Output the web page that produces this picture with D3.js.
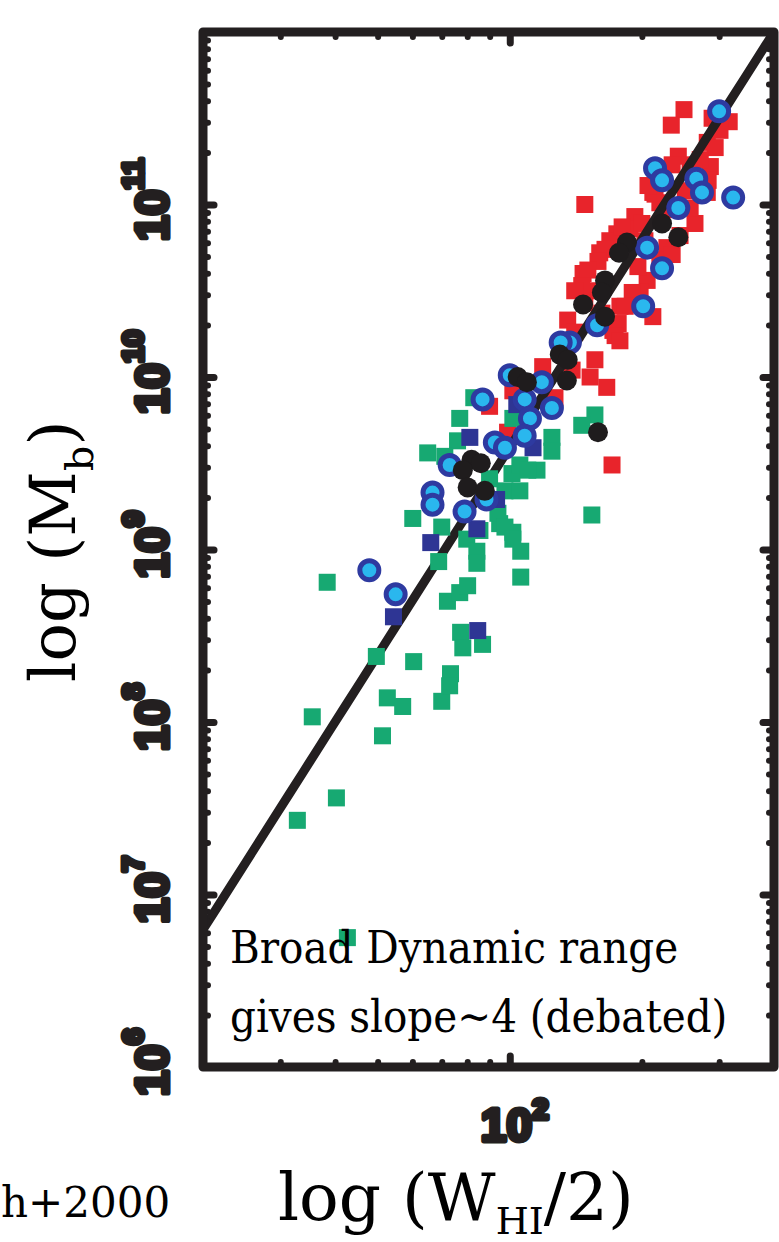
<!DOCTYPE html>
<html>
<head>
<meta charset="utf-8">
<script src="https://cdn.jsdelivr.net/npm/d3@7"></script>
<style>
  html, body { margin: 0; padding: 0; background: #ffffff; }
  svg { display: block; }
</style>
</head>
<body>
<svg id="chart" width="779" height="1242"></svg>
<script>
// Baryonic Tully–Fisher relation: log rotation width vs. baryonic mass.
// Points are stored as [log10(W_HI/2 in km/s), log10(M_b in solar masses)].

const redSquares = [
  [2.397,11.55],[2.368,11.46],[2.461,11.50],[2.500,11.48],[2.450,11.36],[2.468,11.33],
  [2.384,11.28],[2.370,11.23],[2.457,11.22],[2.452,11.14],[2.326,11.07],[2.342,11.01],
  [2.171,11.00],[2.450,11.07],[2.422,10.89],[2.411,10.98],[2.285,10.93],[2.274,10.86],
  [2.244,10.83],[2.228,10.79],[2.205,10.72],[2.358,10.75],[2.342,10.68],[2.167,10.60],
  [2.183,10.50],[2.313,10.56],[2.297,10.49],[2.326,10.35],[2.171,10.43],[2.132,10.33],
  [2.148,10.26],[2.235,10.27],[2.251,10.41],[2.194,10.10],[2.183,10.00],[2.221,9.94],
  [2.233,9.49],[2.075,10.06],[2.103,9.88],[2.007,9.92],[1.954,9.83],[1.995,9.68],
  [2.331,11.06],[2.354,10.97],[2.301,10.89],[2.256,10.87],[2.217,10.74],[2.201,10.67],
  [2.178,10.62],[2.164,10.53],[2.292,10.64],[2.279,10.49],[2.263,10.41],[2.247,10.31],
  [2.240,10.24],[2.370,10.71],[2.411,11.23],[2.434,11.26],[2.479,11.43],[2.114,10.19],
  [2.251,10.21],[2.210,10.37],[2.400,11.08],[2.388,10.82],[2.308,10.79],[2.315,11.11],
  [2.148,10.50],[2.142,10.04]
];

const greenSquares = [
  [1.918,9.88],[1.886,9.76],[1.881,9.63],[1.813,9.56],[1.779,9.18],[1.845,9.13],
  [1.838,8.93],[1.584,8.81],[1.696,8.38],[1.781,8.35],[1.721,8.14],[1.756,8.09],
  [1.710,7.92],[1.550,8.03],[1.845,8.12],[1.865,8.28],[1.863,8.21],[1.858,8.70],
  [1.886,8.75],[1.904,8.79],[1.888,8.52],[1.893,8.43],[1.938,8.45],[1.902,9.06],
  [1.925,8.99],[1.925,8.92],[1.977,9.15],[2.007,9.10],[2.025,8.99],[2.025,8.84],
  [2.194,9.78],[2.164,9.72],[2.187,9.20],[2.096,9.65],[2.096,9.57],[2.062,9.46],
  [2.005,9.44],[2.023,9.49],[2.007,9.76],[1.973,9.21],[1.989,9.13],[2.007,9.06],
  [1.932,9.11],[1.605,7.56],[1.516,7.43],[1.630,6.75],[2.041,9.46],[1.989,9.34],
  [2.023,9.34],[1.852,9.54],[1.954,9.41]
];

const navySquares = [
  [1.820,9.04],[1.735,8.61],[1.909,9.65],[2.016,9.84],[2.053,9.59],[1.970,9.29],
  [1.925,9.12],[1.927,8.53]
];

const ringCircles = [
  [2.477,11.54],[2.331,11.21],[2.347,11.14],[2.425,11.15],[2.438,11.07],[2.509,11.04],
  [2.384,10.98],[2.313,10.75],[2.347,10.63],[2.304,10.41],[2.199,10.30],[2.137,10.20],
  [2.116,10.20],[2.096,9.82],[2.073,9.97],[2.034,9.87],[2.046,9.76],[2.034,9.66],
  [2.000,10.01],[1.938,9.87],[1.966,9.62],[1.989,9.59],[1.863,9.49],[1.824,9.33],
  [1.824,9.26],[1.897,9.22],[1.947,9.29],[1.680,8.88],[1.740,8.74]
];

const blackCircles = [
  [2.267,10.78],[2.249,10.72],[2.384,10.81],[2.347,10.89],[2.217,10.56],[2.210,10.49],
  [2.167,10.42],[2.217,10.35],[2.018,10.00],[2.039,9.97],[2.114,10.13],[2.132,10.10],
  [2.130,9.98],[2.201,9.68],[1.913,9.52],[1.934,9.50],[1.893,9.46],[1.904,9.36],
  [1.943,9.34]
];

// Fitted relation: log M = slope * log W + intercept
const fitSlope = 4;
const fitIntercept = 1.592;

const xDomain = [20, 400];
const yDomain = [1e6, 1e12];
const xTickLabels = [{ value: 100, base: "10", exp: "2" }];
const yTickLabels = [
  { value: 1e6,  base: "10", exp: "6" },
  { value: 1e7,  base: "10", exp: "7" },
  { value: 1e8,  base: "10", exp: "8" },
  { value: 1e9,  base: "10", exp: "9" },
  { value: 1e10, base: "10", exp: "10" },
  { value: 1e11, base: "10", exp: "11" }
];
const noteLines = ["Broad Dynamic range", "gives slope~4 (debated)"];
const creditText = "h+2000";

const frame = { left: 203, right: 774, top: 32, bottom: 1067 };
const ink = "#231f20";
const colors = {
  red: "#e8242b",
  green: "#17a972",
  navy: "#2e3594",
  ringEdge: "#2e3aa0",
  ringFill: "#2ab7ee",
  black: "#1f1c1d"
};

const svg = d3.select("#chart");
svg.append("rect").attr("width", 779).attr("height", 1242).attr("fill", "#fff");

const x = d3.scaleLog().domain(xDomain).range([frame.left, frame.right]);
const y = d3.scaleLog().domain(yDomain).range([frame.bottom, frame.top]);
const px = d => x(Math.pow(10, d[0]));
const py = d => y(Math.pow(10, d[1]));

svg.append("clipPath").attr("id", "plotClip")
  .append("rect")
  .attr("x", frame.left).attr("y", frame.top)
  .attr("width", frame.right - frame.left)
  .attr("height", frame.bottom - frame.top);

const plot = svg.append("g").attr("clip-path", "url(#plotClip)");

const sq = 17;
function drawSquares(data, fill) {
  plot.append("g").selectAll("rect").data(data).join("rect")
    .attr("x", d => px(d) - sq / 2)
    .attr("y", d => py(d) - sq / 2)
    .attr("width", sq).attr("height", sq)
    .attr("fill", fill);
}

drawSquares(redSquares, colors.red);

// Fit line across the full width range
const fitW = d3.range(0, 41).map(i => xDomain[0] * Math.pow(xDomain[1] / xDomain[0], i / 40));
plot.append("path")
  .datum(fitW)
  .attr("fill", "none")
  .attr("stroke", ink)
  .attr("stroke-width", 9)
  .attr("d", d3.line()
    .x(w => x(w))
    .y(w => y(Math.pow(10, fitSlope * Math.log10(w) + fitIntercept))));

drawSquares(greenSquares, colors.green);
drawSquares(navySquares, colors.navy);

plot.append("g").selectAll("circle").data(ringCircles).join("circle")
  .attr("cx", px).attr("cy", py)
  .attr("r", 9.5)
  .attr("fill", colors.ringFill)
  .attr("stroke", colors.ringEdge)
  .attr("stroke-width", 5);

plot.append("g").selectAll("circle").data(blackCircles).join("circle")
  .attr("cx", px).attr("cy", py)
  .attr("r", 10)
  .attr("fill", colors.black);

// Tick marks on all four sides, pointing inward
const isMajor = v => Math.abs(Math.log10(v) - Math.round(Math.log10(v))) < 1e-9;
function tickSets(scale) {
  const all = scale.ticks();
  return { major: all.filter(isMajor), minor: all.filter(v => !isMajor(v)) };
}
const xt = tickSets(x), yt = tickSets(y);

function styleAxis(g, width) {
  g.select(".domain").remove();
  g.selectAll("text").remove();
  g.selectAll("line")
    .attr("stroke", ink)
    .attr("stroke-width", width)
    .attr("stroke-linecap", "round");
}

const axesSpec = [
  [d3.axisLeft, `translate(${frame.left},0)`, y, yt],
  [d3.axisRight, `translate(${frame.right},0)`, y, yt],
  [d3.axisBottom, `translate(0,${frame.bottom})`, x, xt],
  [d3.axisTop, `translate(0,${frame.top})`, x, xt]
];
axesSpec.forEach(([axisFn, tr, scale, ts]) => {
  svg.append("g").attr("transform", tr)
    .call(axisFn(scale).tickValues(ts.minor).tickSize(-5))
    .call(g => styleAxis(g, 6));
  svg.append("g").attr("transform", tr)
    .call(axisFn(scale).tickValues(ts.major).tickSize(-11))
    .call(g => styleAxis(g, 7));
});

// Frame
svg.append("rect")
  .attr("x", frame.left).attr("y", frame.top)
  .attr("width", frame.right - frame.left)
  .attr("height", frame.bottom - frame.top)
  .attr("fill", "none")
  .attr("stroke", ink)
  .attr("stroke-width", 9)
  .attr("stroke-linejoin", "round");

// Heavy tick labels
const labelFont = "'Liberation Sans', Arial, sans-serif";
function heavy(t, size) {
  t.attr("font-family", labelFont)
    .attr("font-weight", "bold")
    .attr("font-size", size)
    .attr("fill", ink)
    .attr("stroke", ink)
    .attr("stroke-width", 5)
    .attr("stroke-linejoin", "round");
}

yTickLabels.forEach(t => {
  const txt = svg.append("text")
    .attr("transform", `translate(168,${y(t.value) - 5}) rotate(-90)`)
    .attr("text-anchor", "middle");
  heavy(txt, 46);
  txt.append("tspan").text(t.base);
  txt.append("tspan").attr("dy", -25).attr("font-size", 30).text(t.exp);
});

xTickLabels.forEach(t => {
  const txt = svg.append("text")
    .attr("x", x(t.value) + 5)
    .attr("y", 1141)
    .attr("text-anchor", "middle");
  heavy(txt, 46);
  txt.append("tspan").text(t.base);
  txt.append("tspan").attr("dy", -22).attr("font-size", 30).text(t.exp);
});

// Axis titles
const serif = "'DejaVu Serif', serif";
const xTitle = svg.append("text")
  .attr("x", 278).attr("y", 1220)
  .attr("font-family", serif).attr("font-size", 66).attr("fill", "#000");
xTitle.append("tspan").text("log (W");
xTitle.append("tspan").attr("dy", 14).attr("font-size", 38).text("HI");
xTitle.append("tspan").attr("dy", -14).text("/2)");

const yTitle = svg.append("text")
  .attr("transform", "translate(75,682) rotate(-90)")
  .attr("font-family", serif).attr("font-size", 64).attr("fill", "#000");
yTitle.append("tspan").text("log (M");
yTitle.append("tspan").attr("dy", 18).attr("font-size", 40).text("b");
yTitle.append("tspan").attr("dy", -18).text(")");

// Annotation inside the plot
svg.append("g").selectAll("text").data(noteLines).join("text")
  .attr("x", 230)
  .attr("y", (d, i) => 963 + i * 69)
  .attr("font-family", "'DejaVu Serif Condensed', 'DejaVu Serif', serif")
  .attr("font-stretch", "condensed")
  .attr("font-size", 45).attr("fill", "#000")
  .text(d => d);

svg.append("text")
  .attr("x", 1).attr("y", 1217)
  .attr("font-family", serif).attr("font-size", 42).attr("fill", "#000")
  .text(creditText);
</script>
</body>
</html>
